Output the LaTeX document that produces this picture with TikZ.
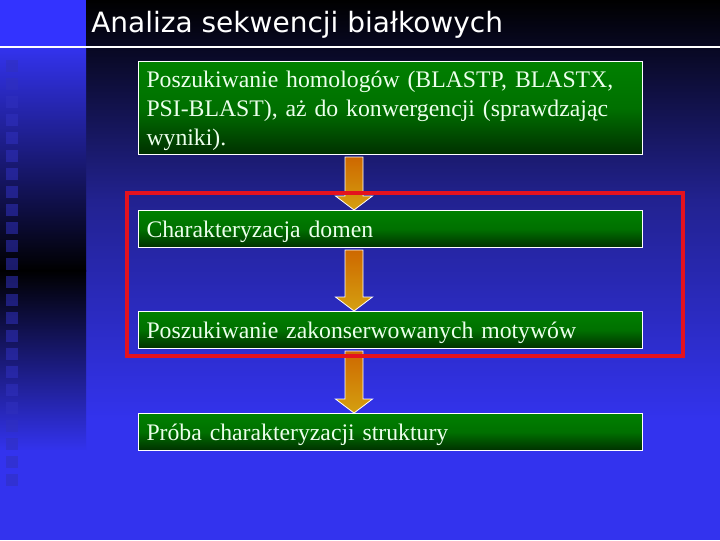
\documentclass[tikz,border=0pt]{standalone}
\usepackage{fontspec}
\setmainfont{Liberation Serif}
\newfontfamily\titlefont{DejaVu Sans}
\usetikzlibrary{calc}
\definecolor{bluebg}{RGB}{51,51,238}
\definecolor{stripblue}{RGB}{51,51,255}
\definecolor{midblue}{RGB}{34,34,144}
\definecolor{sqcol}{RGB}{48,48,190}
\definecolor{boxtop}{RGB}{0,128,0}
\definecolor{boxmid}{RGB}{0,112,0}
\definecolor{boxbot}{RGB}{0,48,0}
\definecolor{boxtext}{RGB}{236,255,236}
\definecolor{arrtop}{RGB}{206,104,0}
\definecolor{arrbot}{RGB}{212,160,16}
\definecolor{frame}{RGB}{228,18,30}
\newcommand\blockarrow[2]{%
  \path[arrowshape] ($(#1.south west)+(207,2)$) -- ($(#1.south west)+(225,2)$)
    -- ($(#2.north west)+(225,-14)$) -- ($(#2.north west)+(234.5,-14)$)
    -- ($(#2.north west)+(216,0)$) -- ($(#2.north west)+(197.5,-14)$)
    -- ($(#2.north west)+(207,-14)$) -- cycle;}
\begin{document}
\begin{tikzpicture}[x=0.75pt,y=-0.75pt,
  stepbox/.style={draw=white, line width=0.75pt, anchor=north west,
    text width=366pt, inner xsep=6pt, inner ysep=0pt, align=left,
    minimum height=27.75pt, font=\fontsize{17.8}{21.75}\selectfont, text=boxtext,
    top color=boxtop, bottom color=boxbot, middle color=boxmid},
  onelinebox/.style={stepbox, text height=14pt, text depth=1.2pt},
  arrowshape/.style={draw=white, line width=0.6pt, top color=arrtop, bottom color=arrbot},
  sq/.style={fill=sqcol, fill opacity=0.55},
  redframe/.style={draw=frame, line width=3pt}]
\useasboundingbox (0,0) rectangle (720,540);
% background main
\shade[top color=black, bottom color=midblue] (86,0) rectangle (720,201);
\shade[top color=midblue, bottom color=bluebg] (86,200) rectangle (720,421);
\fill[bluebg] (86,420) rectangle (720,540);
% left strip
\fill[stripblue] (0,0) rectangle (86,47);
\shade[top color=bluebg, bottom color=black] (0,47) rectangle (86,271);
\shade[top color=black, bottom color=bluebg] (0,270) rectangle (86,451);
\fill[bluebg] (0,450) rectangle (86,540);
\foreach \i in {0,...,23} \fill[sq] (6,{60+18*\i}) rectangle +(12,12);
% title
\draw[white, line width=1.2pt] (0,47) -- (720,47);
\node[anchor=base west, inner sep=0pt, text=white, font=\titlefont\fontsize{21}{24}\selectfont]
  (title) at (91,32) {Analiza sekwencji białkowych};
% boxes
\node[stepbox, minimum height=69.75pt] (b1) at (138,61)
  {\rule{0pt}{16pt}Poszukiwanie homologów (BLASTP, BLASTX,\\PSI-BLAST), aż do konwergencji (sprawdzając\\wyniki).};
\node[onelinebox] (b2) at (138,210) {Charakteryzacja domen};
\node[onelinebox] (b3) at (138,311) {Poszukiwanie zakonserwowanych motywów};
\node[onelinebox] (b4) at (138,413) {Próba charakteryzacji struktury};
% arrows
\blockarrow{b1}{b2}
\blockarrow{b2}{b3}
\blockarrow{b3}{b4}
% red frame
\draw[redframe] (127,193) rectangle (683,356);
\end{tikzpicture}
\end{document}
